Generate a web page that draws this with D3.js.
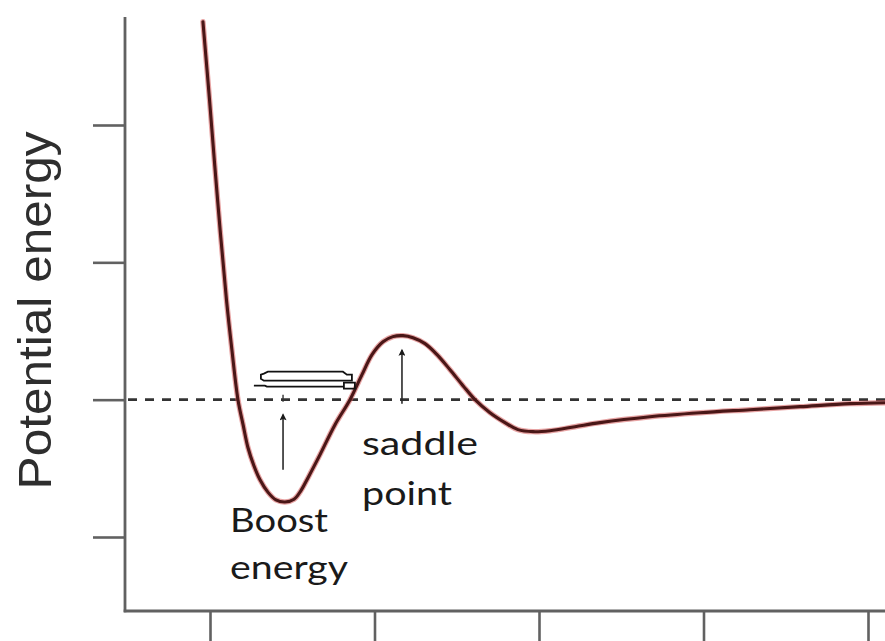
<!DOCTYPE html>
<html>
<head>
<meta charset="utf-8">
<script src="https://cdn.jsdelivr.net/npm/d3@7"></script>
<style>
  html, body { margin: 0; padding: 0; background: #fff; }
  svg { display: block; }
</style>
</head>
<body>
<svg id="chart" width="885" height="641"></svg>
<script>
// ---- data (x in separation units, y in energy units; 0 = dissociation level) ----
const curveX = [0.957, 0.997, 1.046, 1.100, 1.133, 1.170, 1.201, 1.231, 1.267, 1.304,
                1.353, 1.401, 1.456, 1.511, 1.553, 1.596, 1.669, 1.760, 1.851, 1.924,
                1.985, 2.052, 2.112, 2.173, 2.234, 2.307, 2.380, 2.459, 2.538, 2.611,
                2.702, 2.793, 2.872, 2.964, 3.067, 3.219, 3.371, 3.675, 3.979, 4.283,
                4.587, 4.891, 5.103];
const curveY = [2.752, 2.185, 1.456, 0.728, 0.364, 0.000, -0.182, -0.350, -0.481, -0.583,
                -0.675, -0.730, -0.745, -0.725, -0.662, -0.568, -0.400, -0.182, 0.000, 0.182,
                0.328, 0.422, 0.459, 0.466, 0.451, 0.408, 0.328, 0.218, 0.102, 0.000,
                -0.095, -0.167, -0.218, -0.233, -0.226, -0.197, -0.167, -0.124, -0.095, -0.073,
                -0.051, -0.029, -0.022];
const xTickValues = [1, 2, 3, 4, 5];
const yTickValues = [-1, 0, 1, 2];
const referenceLevel = 0;
const yLabel = "Potential energy";
const boostArrow = { x: 1.444, y0: -0.51, y1: -0.11 };
const saddleArrow = { x: 2.167, y0: -0.03, y1: 0.36 };
const saddleLines = ["saddle", "point"];
const boostLines = ["Boost", "energy"];

// ---- scales ----
const svg = d3.select("#chart");
const x = d3.scaleLinear().domain([1, 5]).range([210, 868]);
const y = d3.scaleLinear().domain([-1, 2]).range([537, 125]);
const xMin = x.invert(125), xMax = x.invert(885);
const yMin = y.invert(611), yMax = y.invert(17);

const axisColor = "#616161";

// ---- axes ----
const xAxis = svg.append("g").attr("transform", `translate(0,${y(yMin)})`)
  .call(d3.axisBottom(x).tickValues(xTickValues).tickSize(32).tickFormat(""));
xAxis.select(".domain").remove();
xAxis.selectAll(".tick line").attr("stroke", axisColor).attr("stroke-width", 2.6);

const yAxis = svg.append("g").attr("transform", `translate(${x(xMin)},0)`)
  .call(d3.axisLeft(y).tickValues(yTickValues).tickSize(32).tickFormat(""));
yAxis.select(".domain").remove();
yAxis.selectAll(".tick line").attr("stroke", axisColor).attr("stroke-width", 2.6);

svg.append("line")
  .attr("x1", x(xMin)).attr("x2", x(xMin))
  .attr("y1", y(yMax)).attr("y2", y(yMin) + 1.3)
  .attr("stroke", axisColor).attr("stroke-width", 2.8);
svg.append("line")
  .attr("x1", x(xMin) - 1.3).attr("x2", x(xMax))
  .attr("y1", y(yMin)).attr("y2", y(yMin))
  .attr("stroke", axisColor).attr("stroke-width", 2.8);

// ---- dashed reference level ----
svg.append("line")
  .attr("x1", x(xMin) + 3).attr("x2", x(xMax))
  .attr("y1", y(referenceLevel)).attr("y2", y(referenceLevel))
  .attr("stroke", "#333").attr("stroke-width", 2.6)
  .attr("stroke-dasharray", "9,8");

// ---- potential curve ----
const pts = curveX.map((v, i) => [v, curveY[i]]);
const line = d3.line().x(d => x(d[0])).y(d => y(d[1])).curve(d3.curveCatmullRom.alpha(0.5));
svg.append("path").attr("d", line(pts))
  .attr("fill", "none").attr("stroke", "#d45a5a").attr("stroke-width", 5.4)
  .attr("stroke-opacity", 0.55).attr("stroke-linecap", "round");
svg.append("path").attr("d", line(pts))
  .attr("fill", "none").attr("stroke", "#4a1717").attr("stroke-width", 3.1)
  .attr("stroke-linecap", "round");

// ---- arrows ----
const defs = svg.append("defs");
defs.append("marker").attr("id", "ah")
  .attr("viewBox", "0 0 10 10").attr("refX", 8).attr("refY", 5)
  .attr("markerWidth", 10).attr("markerHeight", 7).attr("markerUnits", "userSpaceOnUse")
  .attr("orient", "auto")
  .append("path").attr("d", "M0,0 L10,5 L0,10 L2,5 Z").attr("fill", "#1a1a1a");

[boostArrow, saddleArrow].forEach(a => {
  svg.append("line")
    .attr("x1", x(a.x)).attr("x2", x(a.x))
    .attr("y1", y(a.y0)).attr("y2", y(a.y1))
    .attr("stroke", "#2a2a2a").attr("stroke-width", 1.6)
    .attr("marker-end", "url(#ah)");
});
// small mark where boost arrow meets the level
svg.append("line")
  .attr("x1", x(boostArrow.x)).attr("x2", x(boostArrow.x))
  .attr("y1", y(referenceLevel) - 5).attr("y2", y(referenceLevel) + 2)
  .attr("stroke", "#333").attr("stroke-width", 1.4);

// ---- hollow double-arrow glyph above the well ----
const g = svg.append("g")
  .attr("transform", `translate(${x(1.2)},${y(referenceLevel) - 28})`)
  .attr("fill", "none").attr("stroke", "#111").attr("stroke-width", 1.8);
g.append("path").attr("d", "M25,0 H100 L104,3 H109 V9 H21 L18,7 V3 L21,2 Z");
g.append("path").attr("d", "M11,14 H22 L24,15 H101 V11 H112 V17 H101 V15");

// ---- labels ----
svg.append("text")
  .attr("transform", `translate(51,${y(0.65)}) rotate(-90)`)
  .attr("text-anchor", "middle")
  .attr("font-family", "'Liberation Sans', Arial, sans-serif")
  .attr("font-size", 47).attr("fill", "#2e2e2e")
  .attr("textLength", 358).attr("lengthAdjust", "spacingAndGlyphs")
  .text(yLabel);

const labelFont = "Lato, 'Open Sans', sans-serif";
const lab = (t, px, py, len) => svg.append("text")
  .attr("x", px).attr("y", py)
  .attr("font-family", labelFont).attr("font-size", 32).attr("fill", "#1a1a1a")
  .attr("textLength", len).attr("lengthAdjust", "spacingAndGlyphs")
  .text(t);
lab(saddleLines[0], x(1.924), y(-0.40), 116);
lab(saddleLines[1], x(1.924), y(-0.765), 90);
lab(boostLines[0], x(1.122), y(-0.961), 98);
lab(boostLines[1], x(1.122), y(-1.303), 118);
</script>
</body>
</html>
